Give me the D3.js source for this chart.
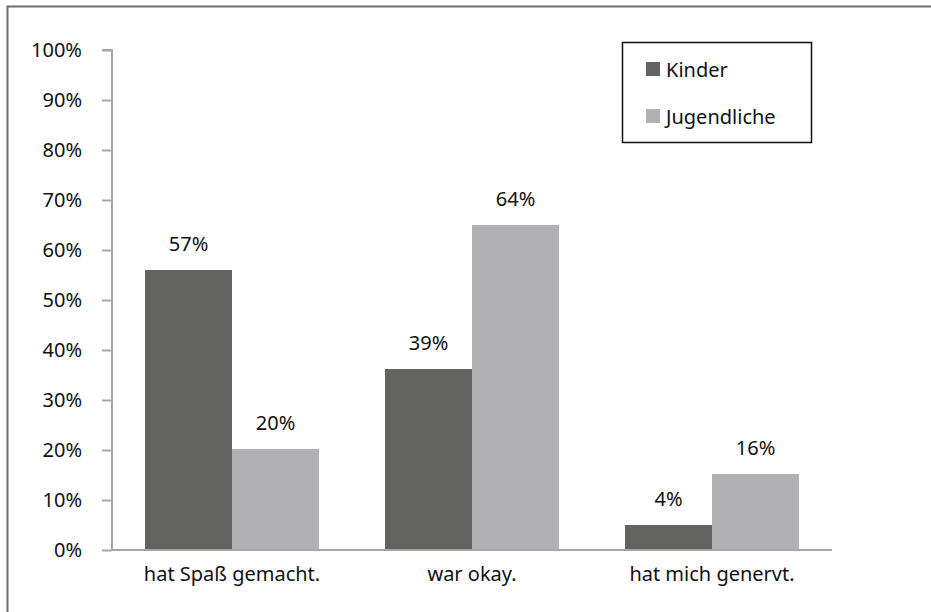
<!DOCTYPE html>
<meta charset="utf-8">
<head>
  <script src="https://d3js.org/d3.v7.min.js"></script>
  <style>
    body { margin: 0; background: #fff; font-family: "Noto Sans", sans-serif; }
    .axis path, .axis line { stroke: #a6a6a6; stroke-width: 2; }
    .axis text { font-size: 20px; fill: #111; font-family: "Noto Sans", sans-serif; }
  </style>
</head>
<body>
<script>
  // Data
  var categories = ["hat Spaß gemacht.", "war okay.", "hat mich genervt."];
  var series = ["Kinder", "Jugendliche"];
  var kinder = [56, 36.2, 5];
  var jugendliche = [20.2, 65, 15.2];
  var kinderLabels = ["57%", "39%", "4%"];
  var jugendlicheLabels = ["20%", "64%", "16%"];
  var yTicks = [0, 10, 20, 30, 40, 50, 60, 70, 80, 90, 100];
  var colors = ["#636361", "#b1b1b3"];

  var width = 931, height = 612;
  var margin = { left: 112, right: 99, top: 50, bottom: 62 };
  var fontSize = "20px";

  var svg = d3.select("body").append("svg")
    .attr("width", width)
    .attr("height", height);

  // outer frame (cut off at right and bottom in the original)
  svg.append("rect")
    .attr("x", 7.5).attr("y", 6.5)
    .attr("width", width).attr("height", height)
    .attr("fill", "none")
    .attr("stroke", "#6f6f6f")
    .attr("stroke-width", 2);

  var x0 = d3.scaleBand()
    .domain(categories)
    .range([margin.left, width - margin.right])
    .paddingInner(0.275).paddingOuter(0.1375);

  var x1 = d3.scaleBand()
    .domain(series)
    .range([0, x0.bandwidth()]);

  var y = d3.scaleLinear()
    .domain([0, 100])
    .range([height - margin.bottom, margin.top]);

  var rows = categories.map(function(c, i) {
    return { cat: c, vals: [
      { s: series[0], v: kinder[i], label: kinderLabels[i] },
      { s: series[1], v: jugendliche[i], label: jugendlicheLabels[i] }
    ] };
  });

  // bars
  var groups = svg.append("g").selectAll("g")
    .data(rows)
    .enter().append("g")
    .attr("transform", function(d) { return "translate(" + x0(d.cat) + ",0)"; });

  groups.selectAll("rect")
    .data(function(d) { return d.vals; })
    .enter().append("rect")
    .attr("x", function(d) { return x1(d.s); })
    .attr("y", function(d) { return y(d.v); })
    .attr("width", x1.bandwidth())
    .attr("height", function(d) { return y(0) - y(d.v); })
    .attr("fill", function(d, i) { return colors[i]; });

  groups.selectAll("text")
    .data(function(d) { return d.vals; })
    .enter().append("text")
    .attr("x", function(d) { return x1(d.s) + x1.bandwidth() / 2; })
    .attr("y", function(d) { return y(d.v) - 27; })
    .attr("text-anchor", "middle")
    .attr("dominant-baseline", "central")
    .style("font-size", fontSize)
    .style("fill", "#111")
    .text(function(d) { return d.label; });

  // y axis
  var yAxis = svg.append("g")
    .attr("class", "axis")
    .attr("transform", "translate(" + margin.left + ",0)")
    .call(d3.axisLeft(y).tickValues(yTicks)
      .tickFormat(function(d) { return d + "%"; })
      .tickSizeInner(10).tickSizeOuter(10).tickPadding(20));
  yAxis.select(".domain").attr("d", "M-10," + y(100) + "H0V" + y(0));

  // x axis
  var xAxis = svg.append("g")
    .attr("class", "axis")
    .attr("transform", "translate(0," + y(0) + ")")
    .call(d3.axisBottom(x0).tickSize(0).tickPadding(17));
  xAxis.select(".domain").attr("d", "M" + margin.left + ",0H" + (width - margin.right));

  // legend
  var legend = svg.append("g").attr("transform", "translate(622,42)");
  legend.append("rect")
    .attr("x", 0.5).attr("y", 0.5)
    .attr("width", 189).attr("height", 100)
    .attr("fill", "#fff")
    .attr("stroke", "#111")
    .attr("stroke-width", 1.5);
  var item = legend.selectAll(".item")
    .data(series)
    .enter().append("g")
    .attr("transform", function(d, i) { return "translate(24," + (27 + i * 47) + ")"; });
  item.append("rect")
    .attr("x", 0).attr("y", -7)
    .attr("width", 14).attr("height", 14)
    .attr("fill", function(d, i) { return colors[i]; });
  item.append("text")
    .attr("x", 20).attr("y", 0)
    .attr("dominant-baseline", "central")
    .style("font-size", fontSize)
    .style("fill", "#111")
    .text(function(d) { return d; });
</script>
</body>
</html>
